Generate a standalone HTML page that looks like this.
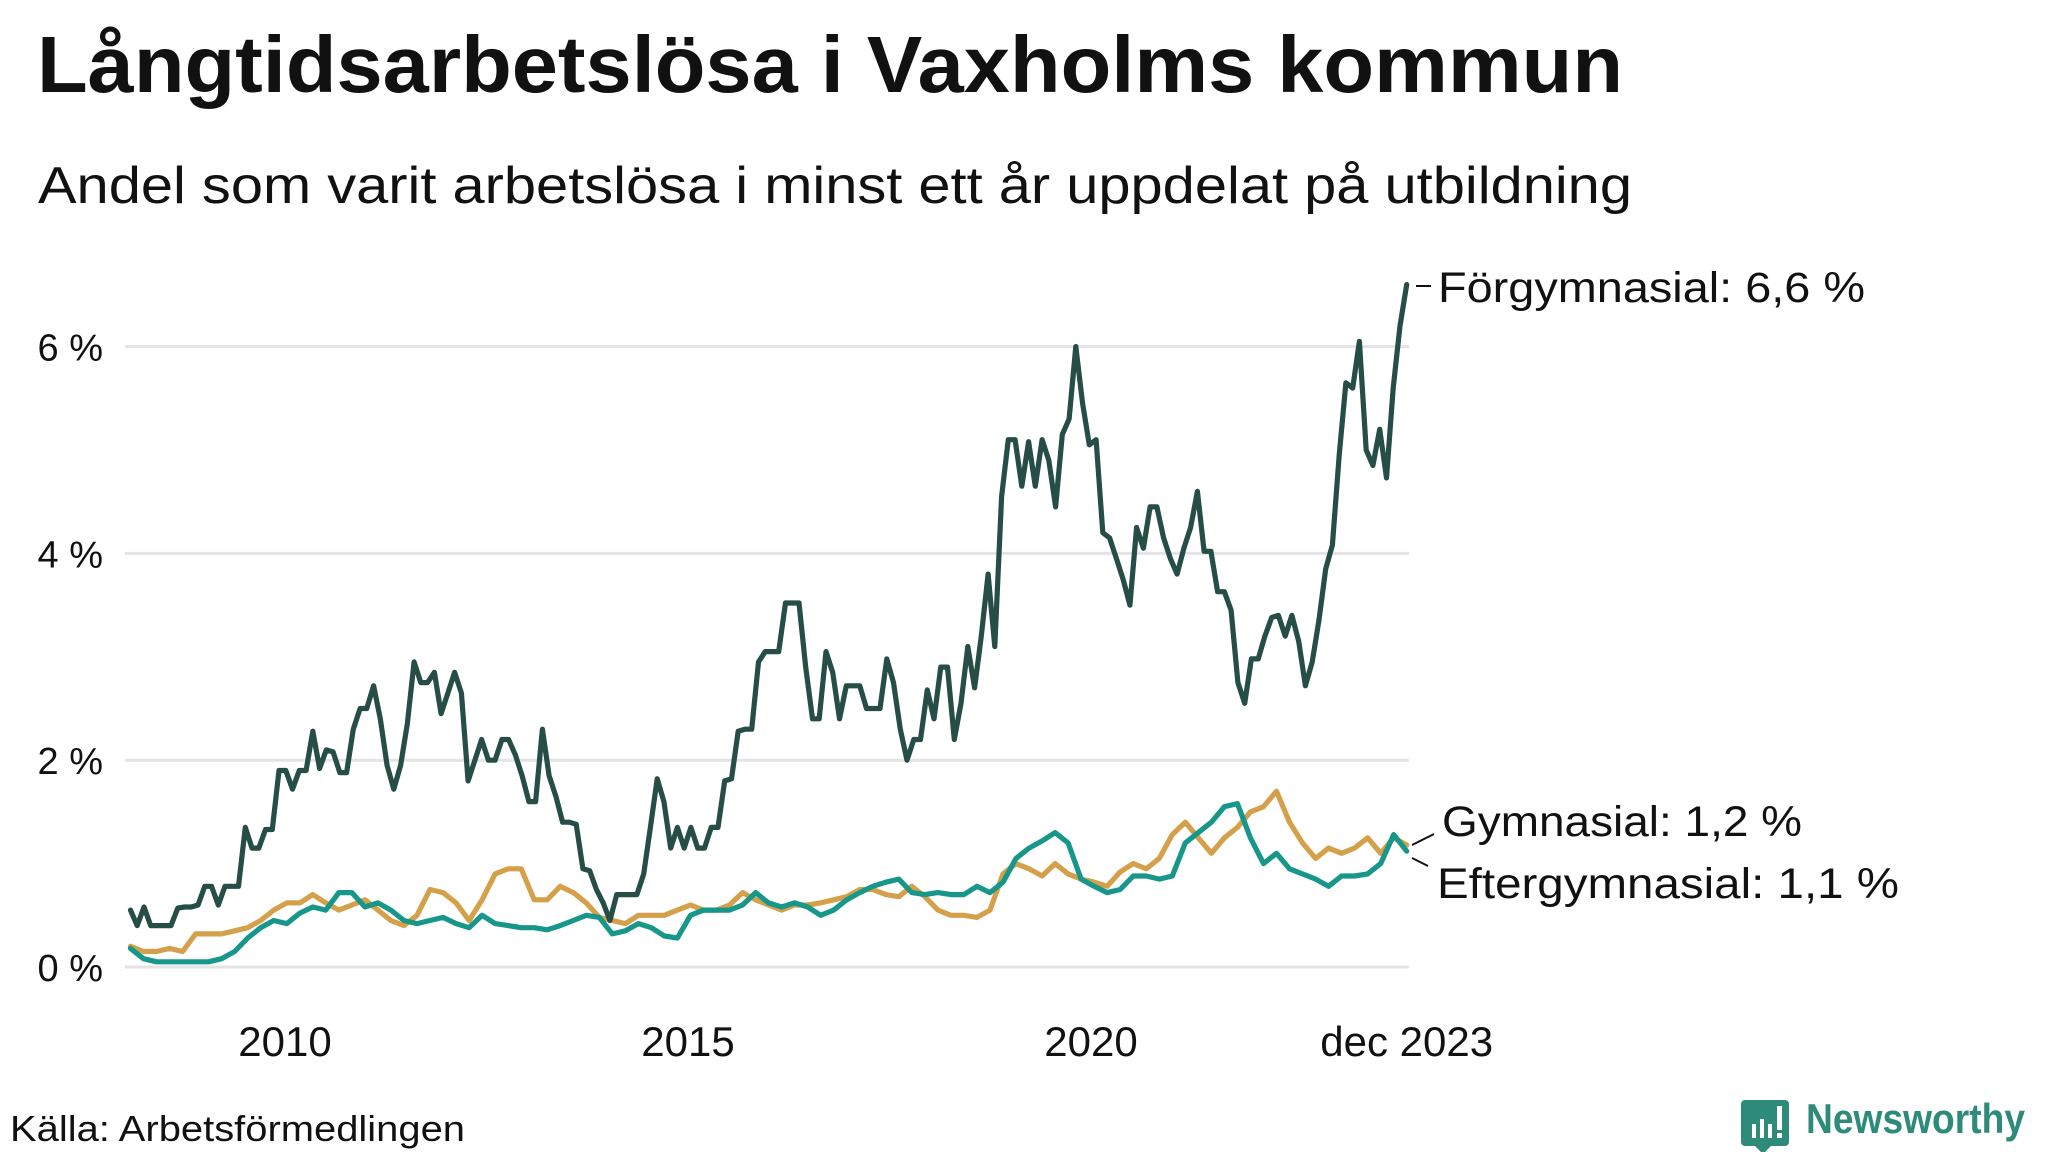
<!DOCTYPE html>
<html><head><meta charset="utf-8"><style>
html,body{margin:0;padding:0;background:#fff;}
svg{display:block;font-family:"Liberation Sans",sans-serif;}
</style></head><body>
<svg id="chart" width="2048" height="1152" viewBox="0 0 2048 1152" xmlns="http://www.w3.org/2000/svg">
<text x="37" y="92" font-size="80" font-weight="bold" fill="#111" textLength="1586" lengthAdjust="spacingAndGlyphs">Långtidsarbetslösa i Vaxholms kommun</text>
<text x="38" y="203" font-size="52" fill="#111" textLength="1594" lengthAdjust="spacingAndGlyphs">Andel som varit arbetslösa i minst ett år uppdelat på utbildning</text>
<g id="grid"></g>
<g id="yticks"></g>
<g id="xticks"></g>
<g id="lines"></g>
<g id="labels"></g>
<text x="10" y="1141" font-size="36" fill="#111" textLength="455" lengthAdjust="spacingAndGlyphs">Källa: Arbetsförmedlingen</text>
<g>
<path d="M1745 1100 h40 a4 4 0 0 1 4 4 v38 a4 4 0 0 1 -4 4 h-14 l-8 8 l-8 -8 h-10 a4 4 0 0 1 -4 -4 v-38 a4 4 0 0 1 4 -4z" fill="#2e8b7a"/>
<rect x="1752" y="1124" width="4" height="14" fill="#fff"/>
<rect x="1760" y="1119" width="4" height="19" fill="#fff"/>
<rect x="1768" y="1124" width="4" height="14" fill="#fff"/>
<rect x="1777" y="1106" width="5" height="24" fill="#fff"/>
<rect x="1777" y="1133" width="5" height="5" fill="#fff"/>
<text x="1806" y="1133" font-size="42" font-weight="bold" fill="#2e8b7a" textLength="219" lengthAdjust="spacingAndGlyphs">Newsworthy</text>
</g>
</svg>
<script>
const yTicks = [0, 2, 4, 6];
const yTickLabels = ["0 %", "2 %", "4 %", "6 %"];
const xTicks = [2010, 2015, 2020, 2023.917];
const xTickLabels = ["2010", "2015", "2020", "dec 2023"];
const startYear = 2008.083;
const endYear = 2023.917;
const forgymnasial = [0.55,0.4,0.58,0.4,0.4,0.4,0.4,0.57,0.58,0.58,0.6,0.78,0.78,0.6,0.78,0.78,0.78,1.35,1.15,1.15,1.33,1.33,1.9,1.9,1.72,1.9,1.9,2.28,1.92,2.1,2.08,1.88,1.88,2.3,2.5,2.5,2.72,2.4,1.95,1.72,1.95,2.35,2.95,2.75,2.75,2.85,2.45,2.65,2.85,2.65,1.8,2.0,2.2,2.0,2.0,2.2,2.2,2.05,1.85,1.6,1.6,2.3,1.85,1.65,1.4,1.4,1.38,0.95,0.93,0.75,0.62,0.45,0.7,0.7,0.7,0.7,0.9,1.35,1.82,1.6,1.15,1.35,1.15,1.35,1.15,1.15,1.35,1.35,1.8,1.82,2.28,2.3,2.3,2.95,3.05,3.05,3.05,3.52,3.52,3.52,2.9,2.4,2.4,3.05,2.85,2.4,2.72,2.72,2.72,2.5,2.5,2.5,2.98,2.75,2.3,2.0,2.2,2.2,2.68,2.4,2.9,2.9,2.2,2.55,3.1,2.7,3.2,3.8,3.1,4.55,5.1,5.1,4.65,5.08,4.65,5.1,4.9,4.45,5.15,5.3,6.0,5.45,5.05,5.1,4.2,4.15,3.95,3.75,3.5,4.25,4.05,4.45,4.45,4.15,3.95,3.8,4.05,4.25,4.6,4.02,4.02,3.63,3.63,3.45,2.75,2.55,2.98,2.98,3.2,3.38,3.4,3.2,3.4,3.15,2.72,2.95,3.35,3.85,4.08,4.95,5.65,5.6,6.05,5.0,4.85,5.2,4.73,5.6,6.2,6.6];
const eftergymnasial = [0.18,0.08,0.05,0.05,0.05,0.05,0.05,0.08,0.15,0.28,0.38,0.45,0.42,0.52,0.58,0.55,0.72,0.72,0.58,0.62,0.55,0.45,0.42,0.45,0.48,0.42,0.38,0.5,0.42,0.4,0.38,0.38,0.36,0.4,0.45,0.5,0.48,0.32,0.35,0.42,0.38,0.3,0.28,0.5,0.55,0.55,0.55,0.6,0.72,0.62,0.58,0.62,0.58,0.5,0.55,0.65,0.72,0.78,0.82,0.85,0.72,0.7,0.72,0.7,0.7,0.78,0.72,0.82,1.05,1.15,1.22,1.3,1.2,0.85,0.78,0.72,0.75,0.88,0.88,0.85,0.88,1.2,1.3,1.4,1.55,1.58,1.25,1.0,1.1,0.95,0.9,0.85,0.78,0.88,0.88,0.9,1.0,1.28,1.12];
const gymnasial = [0.2,0.15,0.15,0.18,0.15,0.32,0.32,0.32,0.35,0.38,0.45,0.55,0.62,0.62,0.7,0.62,0.55,0.6,0.65,0.55,0.45,0.4,0.5,0.75,0.72,0.62,0.45,0.65,0.9,0.95,0.95,0.65,0.65,0.78,0.72,0.62,0.48,0.45,0.42,0.5,0.5,0.5,0.55,0.6,0.55,0.55,0.6,0.72,0.65,0.6,0.55,0.6,0.6,0.62,0.65,0.68,0.75,0.75,0.7,0.68,0.78,0.68,0.55,0.5,0.5,0.48,0.55,0.9,1.0,0.95,0.88,1.0,0.9,0.85,0.82,0.78,0.92,1.0,0.95,1.05,1.28,1.4,1.25,1.1,1.25,1.35,1.5,1.55,1.7,1.4,1.2,1.05,1.15,1.1,1.15,1.25,1.1,1.25,1.18];

const NS = "http://www.w3.org/2000/svg";
function xScale(t){ return 285 + (t - 2010) * 80.6; }
function yScale(v){ return 967 - v * 103.4; }
function mk(tag, attrs, parent){ const e = document.createElementNS(NS, tag); for (const k in attrs) e.setAttribute(k, attrs[k]); parent.appendChild(e); return e; }

const grid = document.getElementById('grid');
const yt = document.getElementById('yticks');
yTicks.forEach((v, i) => {
  const l = mk('line', {x1:125, x2:1409, y1:yScale(v), y2:yScale(v), stroke:'#e3e3e8', 'stroke-width':3}, grid);
  
  
  const t = mk('text', {x:103, y:yScale(v)+14, 'text-anchor':'end', 'font-size':38, fill:'#111'}, yt);
  
  
  t.textContent = yTickLabels[i];
});
const xt = document.getElementById('xticks');
xTicks.forEach((v, i) => {
  const t = mk('text', {x:xScale(v), y:1056, 'text-anchor':'middle', 'font-size':42, fill:'#111'}, xt);
  
  
  t.textContent = xTickLabels[i];
});
function drawSeries(vals, color, name){
  const n = vals.length;
  const pts = vals.map((v, i) => {
    const t = startYear + (endYear - startYear) * i / (n - 1);
    return xScale(t).toFixed(1) + ',' + yScale(v).toFixed(1);
  }).join(' ');
  const p = mk('polyline', {points:pts, fill:'none', stroke:color, 'stroke-width':5.2, 'stroke-linejoin':'round', 'stroke-linecap':'round'}, document.getElementById('lines'));
  
  
}
drawSeries(gymnasial, '#d4a04a', 'line-gymnasial');
drawSeries(eftergymnasial, '#17978a', 'line-eftergymnasial');
drawSeries(forgymnasial, '#264d46', 'line-forgymnasial');

const lab = document.getElementById('labels');
function label(txt, x, y, w, name){
  const t = mk('text', {x:x, y:y, 'font-size':43, fill:'#111', textLength:w, lengthAdjust:'spacingAndGlyphs'}, lab);
  
  
  t.textContent = txt;
}
function leader(x1,y1,x2,y2,name){
  const l = mk('line', {x1:x1,y1:y1,x2:x2,y2:y2, stroke:'#111', 'stroke-width':2}, lab);
  
  
}
label('Förgymnasial: 6,6 %', 1438, 302, 427, 'label-forgymnasial');
label('Gymnasial: 1,2 %', 1442, 836, 360, 'label-gymnasial');
label('Eftergymnasial: 1,1 %', 1437, 898, 462, 'label-eftergymnasial');
leader(1416, 286, 1431, 286, 'leader-forgymnasial');
leader(1412, 845, 1434, 834, 'leader-gymnasial');
leader(1412, 858, 1428, 866, 'leader-eftergymnasial');
</script>
</body></html>
